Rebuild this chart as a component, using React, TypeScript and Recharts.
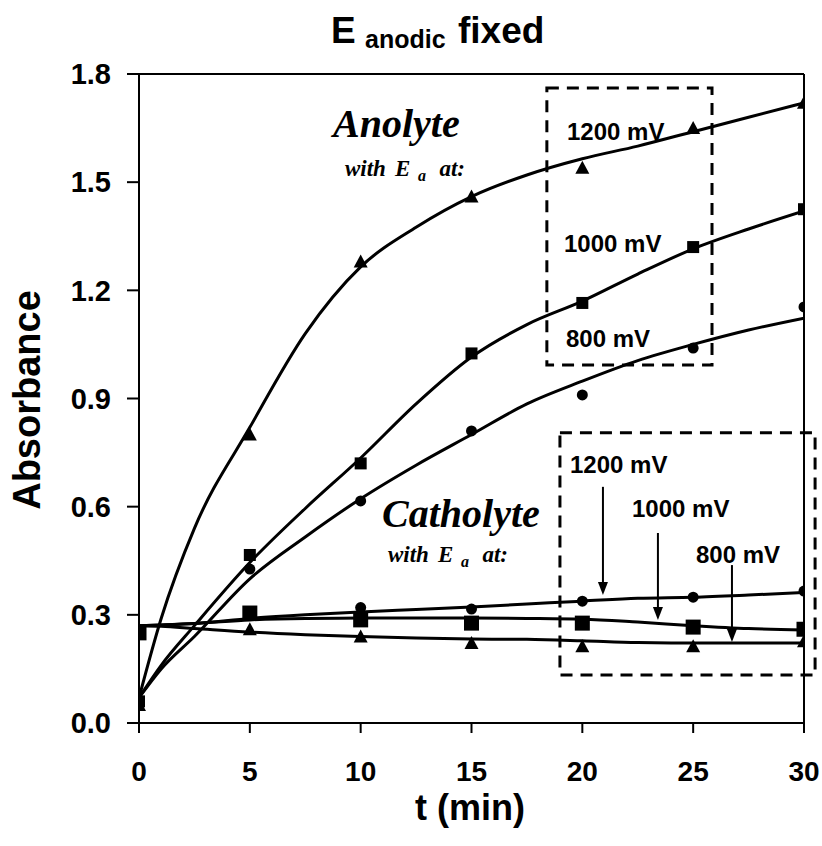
import React from 'react';
import { ComposedChart, Line, Scatter, XAxis, YAxis, ReferenceArea, ReferenceLine } from 'recharts';

// measured points (min / absorbance)
const TIMES = [0, 5, 10, 15, 20, 25, 30];
const anolyte1200 = [0.05, 0.8, 1.28, 1.46, 1.54, 1.65, 1.72];
const anolyte1000 = [0.06, 0.466, 0.72, 1.025, 1.165, 1.32, 1.425];
const anolyte800 = [0.06, 0.427, 0.616, 0.81, 0.91, 1.04, 1.154];
const catholyteCircle = [0.255, 0.305, 0.32, 0.316, 0.338, 0.349, 0.366];
const catholyteTriangle = [0.255, 0.26, 0.24, 0.222, 0.213, 0.213, 0.227];
const catholyteSquare = [0.25, 0.305, 0.286, 0.277, 0.277, 0.266, 0.26];

// fitted curves
const CURVE_T = [0, 1, 2.5, 5, 7.5, 10, 12.5, 15, 17.5, 20, 22.5, 25, 27.5, 30];
const fitAn1200 = [0.07, 0.29, 0.54, 0.82, 1.08, 1.265, 1.375, 1.46, 1.52, 1.565, 1.6, 1.64, 1.68, 1.72];
const fitAn1000 = [0.07, 0.16, 0.27, 0.445, 0.595, 0.735, 0.885, 1.015, 1.105, 1.17, 1.245, 1.315, 1.37, 1.42];
const fitAn800 = [0.07, 0.15, 0.24, 0.4, 0.516, 0.622, 0.715, 0.8, 0.885, 0.948, 1.005, 1.05, 1.09, 1.123];
const fitCatCircle = [0.27, 0.272, 0.276, 0.29, 0.3, 0.308, 0.315, 0.322, 0.33, 0.338, 0.346, 0.349, 0.355, 0.362];
const fitCatSquare = [0.27, 0.272, 0.276, 0.286, 0.29, 0.291, 0.291, 0.291, 0.29, 0.288, 0.28, 0.27, 0.262, 0.258];
const fitCatTriangle = [0.27, 0.268, 0.262, 0.252, 0.245, 0.24, 0.236, 0.233, 0.232, 0.228, 0.223, 0.222, 0.222, 0.222];

const X_TICKS = [0, 5, 10, 15, 20, 25, 30];
const Y_TICKS = [0, 0.3, 0.6, 0.9, 1.2, 1.5, 1.8];

const pts = (ts: number[], vs: number[]) => ts.map((t, i) => ({ t, a: vs[i] }));

const W = 822;
const H = 846;
const SANS = 'Liberation Sans, Arial, sans-serif';
const SERIF = 'Liberation Serif, Times New Roman, serif';

const Triangle = (p: any) => {
  const { cx, cy } = p;
  return <polygon points={`${cx},${cy - 7} ${cx - 7},${cy + 6} ${cx + 7},${cy + 6}`} fill="#000" />;
};
const SquareSm = (p: any) => <rect x={p.cx - 6} y={p.cy - 6} width={12} height={12} fill="#000" />;
const SquareLg = (p: any) => <rect x={p.cx - 7.5} y={p.cy - 7.5} width={15} height={15} fill="#000" />;
const Dot = (p: any) => <circle cx={p.cx} cy={p.cy} r={5.5} fill="#000" />;

const Arrow = (p: any) => {
  const { x1, y1, x2, y2 } = p;
  const tipY = Math.max(y1, y2);
  const topY = Math.min(y1, y2);
  return (
    <g>
      <line x1={x1} y1={topY} x2={x2} y2={tipY - 8} stroke="#000" strokeWidth={2} />
      <polygon points={`${x2},${tipY} ${x2 - 5},${tipY - 13} ${x2 + 5},${tipY - 13}`} fill="#000" />
    </g>
  );
};

const fit = (data: any[], key: string) => (
  <Line key={key} data={data} dataKey="a" type="monotone" stroke="#000" strokeWidth={3} dot={false} isAnimationActive={false} />
);

// "with E_a at:" caption, pieces placed by measured offsets
const WithEa = ({ x, y }: { x: number; y: number }) => (
  <text y={y} fontFamily={SERIF} fontWeight={700} fontStyle="italic" fontSize={23} fill="#000">
    <tspan x={x}>with</tspan>
    <tspan x={x + 50}>E</tspan>
    <tspan x={x + 73} y={y + 5} fontSize={16}>a</tspan>
    <tspan x={x + 120} y={y} textAnchor="end">at:</tspan>
  </text>
);

export default function App() {
  const mvStyle = { fontFamily: SANS, fontWeight: 700, fontSize: 24 } as const;
  const italic = { fontFamily: SERIF, fontWeight: 700, fontStyle: 'italic' } as const;
  return (
    <div style={{ position: 'absolute', left: 0, top: 0, width: W, height: H, background: '#fff' }}>
      <ComposedChart width={W} height={H} margin={{ top: 74, right: 18, bottom: 83, left: 0 }}>
        <XAxis
          dataKey="t"
          type="number"
          domain={[0, 30]}
          ticks={X_TICKS}
          height={40}
          stroke="#000"
          strokeWidth={2}
          tickSize={10}
          tickMargin={28}
          tick={{ fill: '#000', fontSize: 28, fontWeight: 700, fontFamily: SANS }}
          allowDataOverflow
        />
        <YAxis
          dataKey="a"
          type="number"
          domain={[0, 1.8]}
          ticks={Y_TICKS}
          width={139}
          stroke="#000"
          strokeWidth={2}
          tickSize={12}
          tickMargin={16}
          tickFormatter={(v: number) => v.toFixed(1)}
          tick={{ fill: '#000', fontSize: 29, fontWeight: 700, fontFamily: SANS }}
          allowDataOverflow
        />
        <ReferenceLine y={1.8} stroke="#000" strokeWidth={2} />
        <ReferenceLine x={30} stroke="#000" strokeWidth={2} />

        {fit(pts(CURVE_T, fitAn1200), 'f1')}
        {fit(pts(CURVE_T, fitAn1000), 'f2')}
        {fit(pts(CURVE_T, fitAn800), 'f3')}
        {fit(pts(CURVE_T, fitCatCircle), 'f4')}
        {fit(pts(CURVE_T, fitCatSquare), 'f5')}
        {fit(pts(CURVE_T, fitCatTriangle), 'f6')}

        <Scatter data={pts(TIMES, anolyte1200)} dataKey="a" shape={Triangle} isAnimationActive={false} />
        <Scatter data={pts(TIMES, anolyte1000)} dataKey="a" shape={SquareSm} isAnimationActive={false} />
        <Scatter data={pts(TIMES, anolyte800)} dataKey="a" shape={Dot} isAnimationActive={false} />
        <Scatter data={pts(TIMES, catholyteCircle)} dataKey="a" shape={Dot} isAnimationActive={false} />
        <Scatter data={pts(TIMES, catholyteTriangle)} dataKey="a" shape={Triangle} isAnimationActive={false} />
        <Scatter data={pts(TIMES, catholyteSquare)} dataKey="a" shape={SquareLg} isAnimationActive={false} />

        {/* dashed boxes */}
        <ReferenceArea x1={18.4} x2={25.85} y1={0.993} y2={1.761} fill="none" stroke="#000" strokeWidth={3} strokeDasharray="12 8" ifOverflow="visible" />
        <ReferenceArea x1={18.99} x2={30.5} y1={0.133} y2={0.805} fill="none" stroke="#000" strokeWidth={3} strokeDasharray="12 8" ifOverflow="visible" />

        {/* arrows */}
        <ReferenceLine segment={[{ x: 20.93, y: 0.655 }, { x: 20.93, y: 0.355 }]} shape={Arrow} ifOverflow="visible" />
        <ReferenceLine segment={[{ x: 23.41, y: 0.527 }, { x: 23.41, y: 0.286 }]} shape={Arrow} ifOverflow="visible" />
        <ReferenceLine segment={[{ x: 26.75, y: 0.438 }, { x: 26.75, y: 0.225 }]} shape={Arrow} ifOverflow="visible" />
      </ComposedChart>

      <svg width={W} height={H} style={{ position: 'absolute', left: 0, top: 0, pointerEvents: 'none' }}>
        {/* title */}
        <text y={43} fontFamily={SANS} fontWeight={700} fill="#000">
          <tspan x={331} fontSize={37}>E</tspan>
          <tspan x={365} y={48} fontSize={25}>anodic</tspan>
          <tspan x={458} y={43} fontSize={37}>fixed</tspan>
        </text>
        <text x={40} y={400} transform="rotate(-90 40 400)" textAnchor="middle" fontFamily={SANS} fontWeight={700} fontSize={38} fill="#000">
          Absorbance
        </text>
        <text x={470} y={820} textAnchor="middle" fontFamily={SANS} fontWeight={700} fontSize={36} fill="#000">
          t (min)
        </text>

        {/* anolyte */}
        <text x={333} y={137} {...italic} fontSize={40} fill="#000">Anolyte</text>
        <WithEa x={345} y={176} />
        <text x={567} y={140} {...mvStyle}>1200 mV</text>
        <text x={564} y={252} {...mvStyle}>1000 mV</text>
        <text x={566} y={347} {...mvStyle}>800 mV</text>

        {/* catholyte */}
        <text x={382} y={527} {...italic} fontSize={40} fill="#000">Catholyte</text>
        <WithEa x={388} y={562} />
        <text x={570} y={473} {...mvStyle}>1200 mV</text>
        <text x={632} y={517} {...mvStyle}>1000 mV</text>
        <text x={696} y={563} {...mvStyle}>800 mV</text>
      </svg>
    </div>
  );
}
